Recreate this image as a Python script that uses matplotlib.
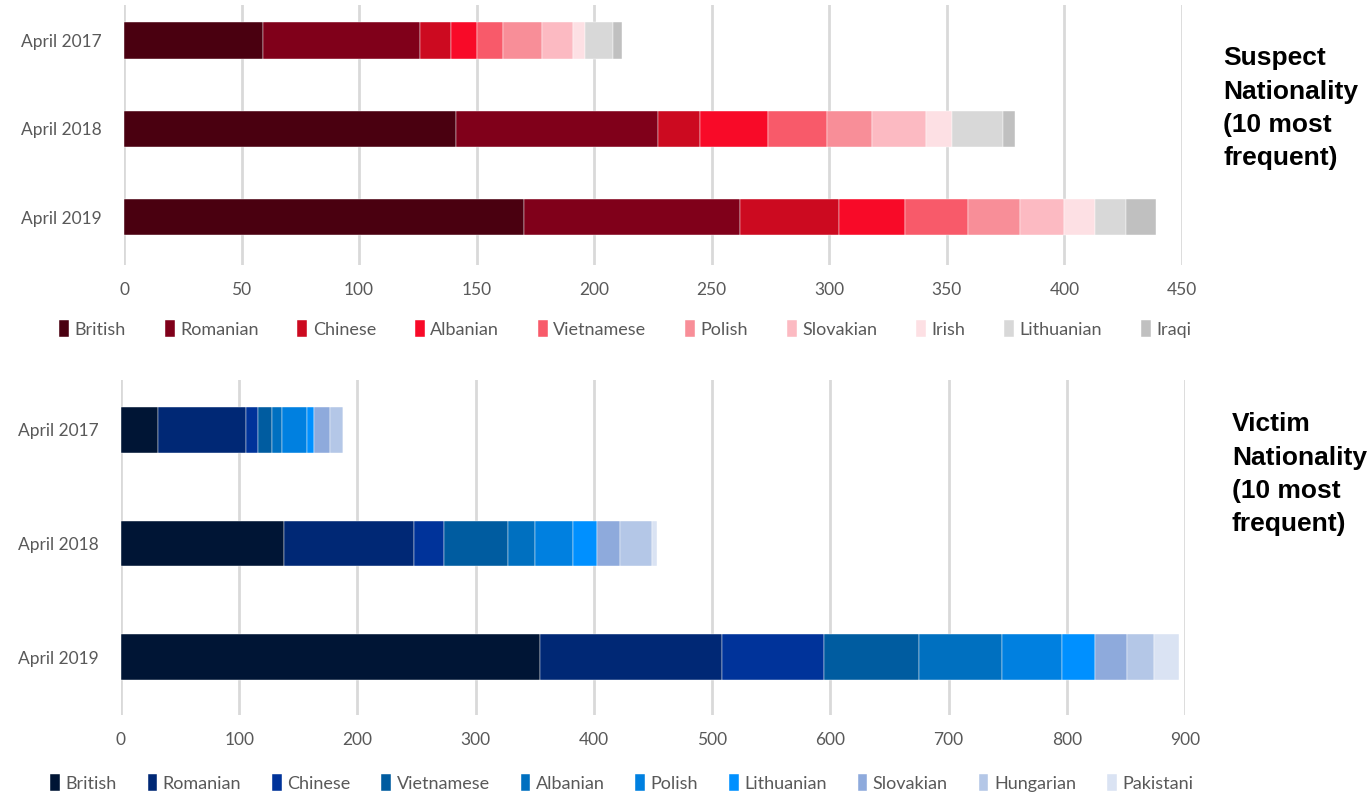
import matplotlib
matplotlib.use("Agg")
import matplotlib.pyplot as plt

years = ["April 2017", "April 2018", "April 2019"]

suspect_groups = ["British", "Romanian", "Chinese", "Albanian", "Vietnamese",
                  "Polish", "Slovakian", "Irish", "Lithuanian", "Iraqi"]
suspect_2017 = [59, 67, 13, 11, 11, 17, 13, 5, 12, 4]
suspect_2018 = [141, 86, 18, 29, 25, 19, 23, 11, 22, 5]
suspect_2019 = [170, 92, 42, 28, 27, 22, 19, 13, 13, 13]
suspect_colors = ["#4a0010", "#80001a", "#cc0a20", "#f80a28", "#f85a6a",
                  "#f88e98", "#fcbac2", "#fde0e4", "#d8d8d8", "#c0c0c0"]

victim_groups = ["British", "Romanian", "Chinese", "Vietnamese", "Albanian",
                 "Polish", "Lithuanian", "Slovakian", "Hungarian", "Pakistani"]
victim_2017 = [31, 75, 10, 12, 8, 21, 6, 14, 11, 0]
victim_2018 = [138, 110, 25, 54, 23, 32, 21, 19, 27, 4]
victim_2019 = [354, 154, 87, 80, 70, 51, 28, 27, 23, 21]
victim_colors = ["#001535", "#002875", "#00339a", "#005ca0", "#0070c0",
                 "#0080e0", "#0090ff", "#8eaadc", "#b4c7e7", "#dae3f3"]

plt.rcParams['font.family'] = ['Lato', 'DejaVu Sans']
grey = "#595959"

W, H = 1371, 796
fig = plt.figure(figsize=(W / 100, H / 100), dpi=100)


def stacked(ax, groups, rows, colors, xmax, step, height):
    for i, name in enumerate(groups):
        vals = [r[i] for r in rows]
        lefts = [sum(r[:i]) for r in rows]
        ax.barh(range(len(rows)), vals, left=lefts, height=height,
                color=colors[i], label=name, edgecolor="white", linewidth=0.3)
    ax.set_xlim(0, xmax)
    ax.set_xticks(range(0, xmax + 1, step))
    ax.set_yticks(range(len(rows)))
    ax.set_yticklabels(years, fontsize=13)
    ax.grid(axis="x", color="#d9d9d9", linewidth=2)
    ax.set_axisbelow(True)
    for s in ax.spines.values():
        s.set_visible(False)
    ax.tick_params(length=0, colors=grey, labelsize=12.5, pad=16)
    ax.tick_params(axis="x", pad=12)


# suspect chart
ax1 = fig.add_axes([124 / W, 1 - 265 / H, 1058 / W, 260 / H])
stacked(ax1, suspect_groups, [suspect_2017, suspect_2018, suspect_2019],
        suspect_colors, 450, 50, 0.41)
ax1.set_ylim(2.54, -0.40)

# victim chart
ax2 = fig.add_axes([121 / W, 1 - 715 / H, 1064 / W, 335 / H])
stacked(ax2, victim_groups, [victim_2017, victim_2018, victim_2019],
        victim_colors, 900, 100, 0.40)
ax2.set_ylim(2.51, -0.44)

leg_kw = dict(ncol=10, frameon=False, fontsize=13, labelcolor=grey,
              handlelength=0.55, handleheight=1.0, handletextpad=0.3,
              borderaxespad=0, loc="center left")
h, l = ax1.get_legend_handles_labels()
fig.legend(h, l, bbox_to_anchor=(52 / W, 1 - 329 / H), columnspacing=2.15, **leg_kw)
h, l = ax2.get_legend_handles_labels()
fig.legend(h, l, bbox_to_anchor=(43 / W, 1 - 783 / H), columnspacing=1.70, **leg_kw)

title_kw = dict(fontsize=19, fontweight="bold", ha="left", va="top",
                family=["Liberation Sans", "DejaVu Sans"], linespacing=1.5)
fig.text(1223 / W, 1 - 46 / H, "Suspect\nNationality\n(10 most\nfrequent)", **title_kw)
fig.text(1232 / W, 1 - 412 / H, "Victim\nNationality\n(10 most\nfrequent)", **title_kw)

fig.savefig("out.png", dpi=100)
